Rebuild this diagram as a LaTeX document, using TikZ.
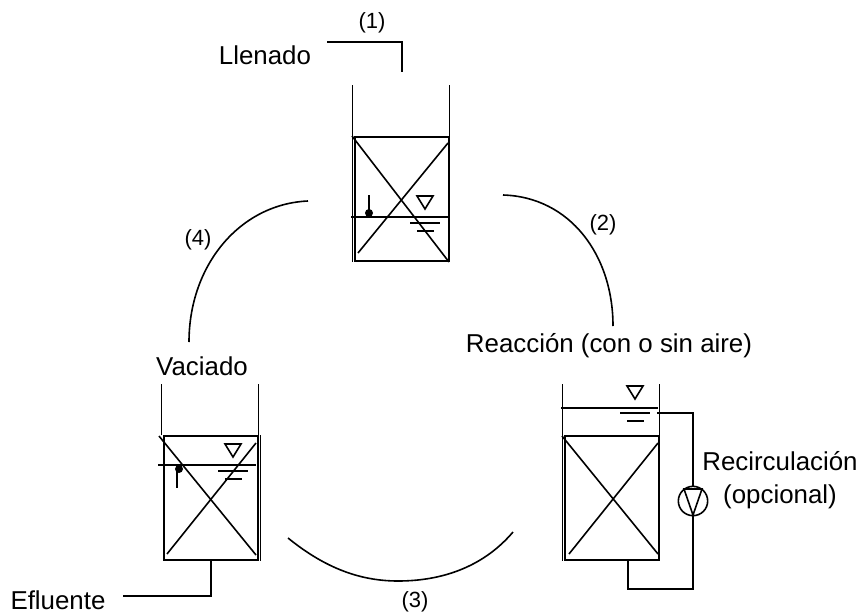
\documentclass[tikz,border=0pt]{standalone}
\usepackage{fontspec}
\setmainfont{Liberation Sans}
\usetikzlibrary{calc}
\tikzset{
  line/.style={line width=1.2pt,line join=miter},
  tank/.style={draw,line width=1.5pt,minimum width=71pt,minimum height=93pt,inner sep=0pt},
  pump/.style={draw,circle,line width=1.2pt,minimum size=22pt,inner sep=0pt},
  lab/.style={font=\fontsize{19.4}{25}\selectfont,inner sep=0pt,align=center},
  step num/.style={font=\fontsize{16.5}{20}\selectfont,inner sep=0pt},
}
\begin{document}
\begin{tikzpicture}[x=0.75pt,y=-0.75pt]
\useasboundingbox (0,0) rectangle (860,614);
% tanks
\node[tank] (fill) at (402,199) {};
\node[tank] (react) at (612,498) {};
\node[tank] (empty) at (211,498) {};
\foreach \t in {fill,react,empty} {
  \draw[line] ($(\t.north west)+(-1,0)$) -- ++(0,-51);
  \draw[line] ($(\t.north east)+(-1,0)$) -- ++(0,-51);
}
\draw[line] ($(react.north west)+(-1,0)$) -- ($(react.south west)+(-1,0)$);
\draw[line] ($(fill.north west)+(-1,0)$) -- ($(fill.south west)+(-1,0)$);
\draw[line] ($(empty.north east)+(1,0)$) -- ($(empty.south east)+(1,0)$);
% crossed blades
\draw[line] (352,136) -- (449,262);
\draw[line] (358,253) -- (448,143);
\draw[line] (562,436) -- (658,554);
\draw[line] (569,554) -- (658,443);
\draw[line] (159,436) -- (256,555);
\draw[line] (167,554) -- (256,443);
% water levels
\draw[line] (351,217) -- (449,217);
\draw[line] (561,408) -- (658,408);
\draw[line] (158,465) -- (256,465);
\foreach \x/\y in {425/196,635/386,233/444} {
  \draw[line] (\x-8,\y) -- (\x+8,\y) -- (\x,\y+13) -- cycle;
  \draw[line] (\x-15,\y+27) -- (\x+15,\y+27);
  \draw[line] (\x-8,\y+35) -- (\x+9,\y+35);
}
% floats
\draw[line] (369,195) -- (369,213);
\fill (369,213) circle (3pt);
\draw[line] (177,469) -- (177,488);
\fill (179,469) circle (3pt);
% pipes
\coordinate (inlet) at (327,42);
\coordinate (outlet) at (123,596);
\draw[line] (inlet) -- (402,42) -- (402,72);
\draw[line] (empty.south) -- (empty.south |- outlet) -- (outlet);
\node[pump] (recirc) at (693,501) {};
\draw[line] (657,413) -- (recirc.north |- 0,413) -- (recirc.north);
\draw[line] (recirc.south) -- (693,589) -- (628,589) -- (628,560);
\draw[line] (684,489) -- (702,489) -- (693,515) -- cycle;
% cycle arcs
\draw[line] (503,195) .. controls (570,197) and (613,255) .. (613,326);
\draw[line] (308,201) .. controls (240,204) and (189,265) .. (189,342);
\draw[line] (288,538) .. controls (325,568) and (360,581) .. (398,581) .. controls (445,581) and (485,565) .. (513,532);
% labels
\node[lab] (llenado) at (265,55) {Llenado};
\node[lab] (reaccion) at (609,346) {Reacción (con o sin aire)};
\node[lab] (vaciado) at (202,366) {Vaciado};
\node[lab] (efluente) at (58,600) {Efluente};
\node[lab] (recirclab) at (780,480) {Recirculación\\(opcional)};
\node[step num] (n1) at (372,23) {(1)};
\node[step num] (n2) at (603,225) {(2)};
\node[step num] (n3) at (415,602) {(3)};
\node[step num] (n4) at (198,240) {(4)};
\end{tikzpicture}
\end{document}
